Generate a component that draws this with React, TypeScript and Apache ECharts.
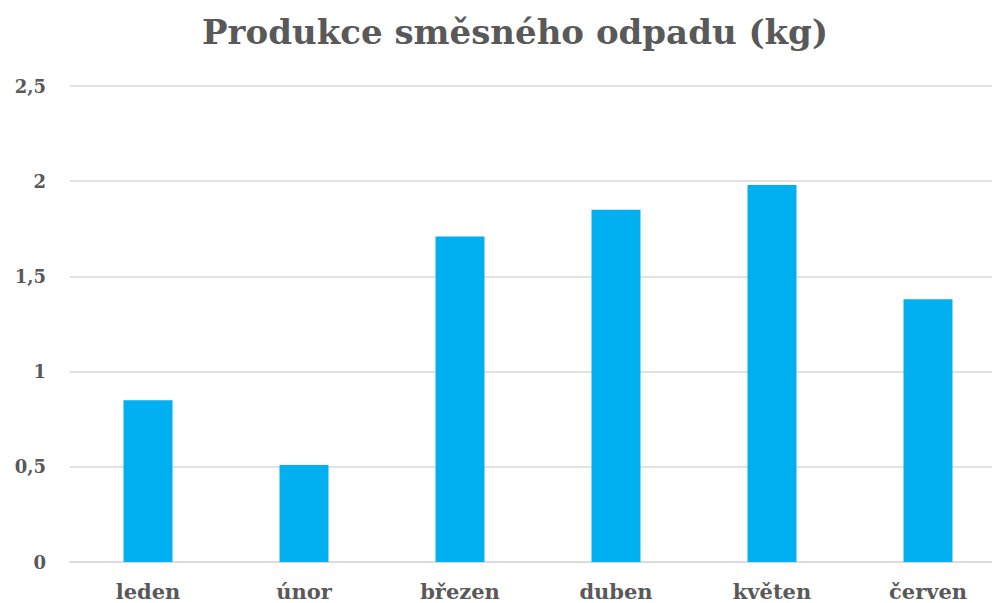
import React, { useEffect, useRef } from "react";
import * as echarts from "echarts";

const categories = ["leden", "únor", "březen", "duben", "květen", "červen"];
const values = [0.85, 0.51, 1.71, 1.85, 1.98, 1.38];
const titleText = "Produkce směsného odpadu (kg)";

const FONT = "'DejaVu Serif', 'Liberation Serif', serif";
const TEXT = "#595959";

export default function App() {
  const ref = useRef<HTMLDivElement>(null);
  useEffect(() => {
    if (!ref.current) return;
    const chart = echarts.init(ref.current, null, { renderer: "svg" });
    chart.setOption({
      animation: false,
      backgroundColor: "#ffffff",
      title: {
        text: titleText,
        left: "center",
        top: 10,
        textStyle: { fontFamily: FONT, fontWeight: "bold", fontSize: 34, color: TEXT },
      },
      grid: { left: 70, top: 86, width: 936, height: 476, containLabel: false },
      xAxis: {
        type: "category",
        data: categories,
        axisLine: { show: true, lineStyle: { color: "#d9d9d9", width: 1.5 } },
        axisTick: { show: false },
        axisLabel: {
          margin: 19,
          fontFamily: FONT,
          fontWeight: "bold",
          fontSize: 21,
          color: TEXT,
        },
      },
      yAxis: {
        type: "value",
        min: 0,
        max: 2.5,
        interval: 0.5,
        axisLine: { show: false },
        axisTick: { show: false },
        splitLine: { lineStyle: { color: "#d9d9d9", width: 1.5 } },
        axisLabel: {
          margin: 24,
          fontFamily: FONT,
          fontWeight: "bold",
          fontSize: 18,
          color: TEXT,
          formatter: (v: number) => String(v).replace(".", ","),
        },
      },
      series: [
        {
          type: "bar",
          data: values,
          barWidth: 49,
          itemStyle: { color: "#00B0F0" },
        },
      ],
    });
    return () => chart.dispose();
  }, []);
  return (
    <div
      ref={ref}
      style={{ position: "fixed", left: 0, top: 0, width: 1030, height: 603 }}
    />
  );
}
